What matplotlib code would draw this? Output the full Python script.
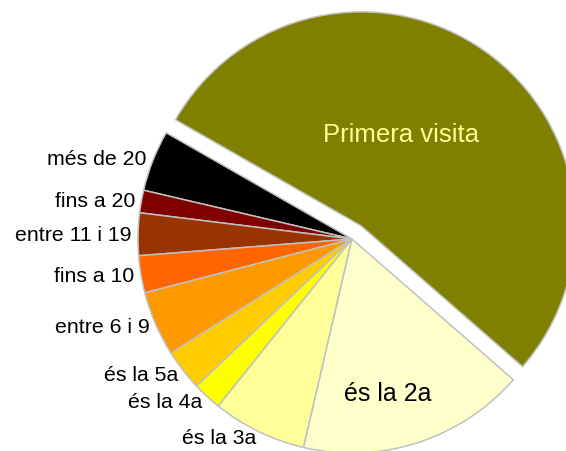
import numpy as np
import matplotlib.pyplot as plt

plt.rcParams['font.family'] = ['Liberation Sans', 'DejaVu Sans']

# visites: percentatge per categoria
labels = ['Primera visita', 'més de 20', 'fins a 20', 'entre 11 i 19', 'fins a 10',
          'entre 6 i 9', 'és la 5a', 'és la 4a', 'és la 3a', 'és la 2a']
values = [53.1, 4.6, 1.7, 3.2, 2.8, 4.9, 3.1, 2.2, 7.1, 17.2]
colors = ['#808000', '#000000', '#800000', '#993300', '#FF6600',
          '#FF9900', '#FFCC00', '#FFFF00', '#FFFF99', '#FFFFCC']
explode = [0.075, 0, 0, 0, 0, 0, 0, 0, 0, 0]
inside = ['Primera visita', 'és la 2a']

fig = plt.figure(figsize=(5.66, 4.52), dpi=100)
ax = fig.add_axes([0, 0, 1, 1])

outer_labels = ['' if l in inside else l for l in labels]
wedges, texts = ax.pie(values, labels=outer_labels, colors=colors, explode=explode,
                       startangle=-41.1, counterclock=True, labeldistance=1.03,
                       wedgeprops=dict(edgecolor='#C0C0C0', linewidth=1.1),
                       textprops=dict(fontsize=15.3, color='black'))

# etiquetes dins dels sectors grans
for w, l in zip(wedges, labels):
    if l not in inside:
        continue
    mid = np.deg2rad((w.theta1 + w.theta2) / 2)
    cx, cy = w.center
    if l == 'Primera visita':
        ax.text(cx + 0.47 * np.cos(np.deg2rad(66.7)), cy + 0.47 * np.sin(np.deg2rad(66.7)), l,
                ha='center', va='center', fontsize=18.5, color='#FFFF99')
    else:
        ax.text(cx + 0.74 * np.cos(mid - np.deg2rad(5)), cy + 0.74 * np.sin(mid - np.deg2rad(5)), l,
                ha='center', va='center', fontsize=18, color='black')

ax.set_xlim(-352 / 214, (566 - 352) / 214)
ax.set_ylim(-(452 - 240) / 214, 240 / 214)
ax.set_aspect('equal')
ax.axis('off')

plt.savefig('out.png', dpi=100)
